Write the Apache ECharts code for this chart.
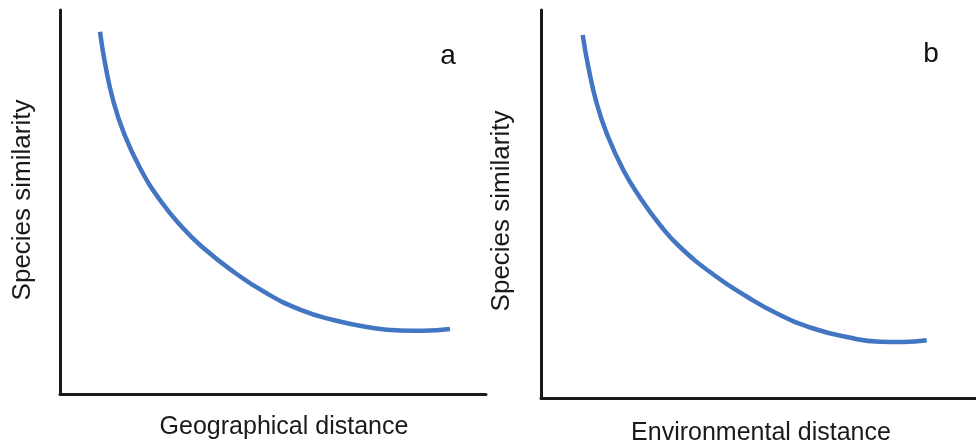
<!DOCTYPE html>
<html>
<head>
<meta charset="utf-8">
<script src="https://cdn.jsdelivr.net/npm/echarts@6/dist/echarts.min.js"></script>
<style>
html,body{margin:0;padding:0;background:#fff;}
#chart{width:976px;height:444px;}
</style>
</head>
<body>
<div id="chart"></div>
<script>
// Panel a: species similarity vs geographical distance (axis units 0-100, no ticks shown)
var geoDistance = [9.39, 10.56, 12.51, 15.02, 18.78, 23.47, 28.64, 32.86, 40.68, 48.51, 56.34, 64.15, 72.00, 79.81, 85.28, 91.55];
var geoSimilarity = [94.35, 86.20, 76.30, 67.89, 58.85, 50.52, 43.49, 38.80, 31.85, 26.22, 21.99, 19.27, 17.45, 16.54, 16.48, 16.93];
// Panel b: species similarity vs environmental distance
var envDistance = [9.59, 10.87, 12.80, 15.10, 18.92, 22.76, 27.36, 31.95, 39.61, 47.29, 54.94, 62.60, 70.27, 77.93, 83.29, 88.67];
var envSimilarity = [93.56, 85.39, 75.95, 68.22, 58.76, 51.68, 44.59, 38.92, 31.83, 26.16, 21.39, 17.91, 15.72, 14.51, 14.43, 14.87];

var panelLabels = ['a', 'b'];
var xNames = ['Geographical distance', 'Environmental distance'];
var yName = 'Species similarity';

function pairs(xs, ys) {
  return xs.map(function (x, i) { return [x, ys[i]]; });
}

var axisLine = { show: true, lineStyle: { color: '#1a1a1a', width: 3 } };
var font = 'Liberation Sans, Arial, sans-serif';

function xAxis(idx, name, gap, pad) {
  return {
    type: 'value', gridIndex: idx, min: 0, max: 100,
    name: name, nameLocation: 'middle', nameGap: gap,
    nameTextStyle: { fontSize: 25, color: '#1a1a1a', fontFamily: font, padding: pad },
    axisLine: axisLine, axisTick: { show: false }, axisLabel: { show: false },
    splitLine: { show: false }
  };
}
function yAxis(idx, gap, pad) {
  return {
    type: 'value', gridIndex: idx, min: 0, max: 100,
    name: yName, nameLocation: 'middle', nameGap: gap,
    nameTextStyle: { fontSize: 26, color: '#1a1a1a', fontFamily: font, padding: pad },
    axisLine: axisLine, axisTick: { show: false }, axisLabel: { show: false },
    splitLine: { show: false }
  };
}

var lineColor = '#4376c2';
var chart = echarts.init(document.getElementById('chart'), null, { renderer: 'canvas' });
chart.setOption({
  backgroundColor: '#ffffff',
  animation: false,
  grid: [
    { left: 60, top: 10, width: 426, height: 384, outerBoundsMode: 'none' },
    { left: 541, top: 10, width: 435, height: 388, outerBoundsMode: 'none' }
  ],
  xAxis: [
    xAxis(0, xNames[0], 21, [0, 0, 0, 22]),
    xAxis(1, xNames[1], 23, [0, 0, 0, 5])
  ],
  yAxis: [yAxis(0, 24, [0, 0, 0, 4]), yAxis(1, 26, [0, 14, 0, 0])],
  graphic: [
    { type: 'text', x: 448, y: 56, style: { text: panelLabels[0], font: '28px ' + font, fill: '#111', textAlign: 'center', textVerticalAlign: 'middle' } },
    { type: 'text', x: 931, y: 54, style: { text: panelLabels[1], font: '28px ' + font, fill: '#111', textAlign: 'center', textVerticalAlign: 'middle' } }
  ],
  series: [
    {
      type: 'line', xAxisIndex: 0, yAxisIndex: 0, data: pairs(geoDistance, geoSimilarity),
      smooth: true, showSymbol: false, lineStyle: { color: lineColor, width: 4.5, cap: 'butt' }
    },
    {
      type: 'line', xAxisIndex: 1, yAxisIndex: 1, data: pairs(envDistance, envSimilarity),
      smooth: true, showSymbol: false, lineStyle: { color: lineColor, width: 4.5, cap: 'butt' }
    }
  ]
});
</script>
</body>
</html>
